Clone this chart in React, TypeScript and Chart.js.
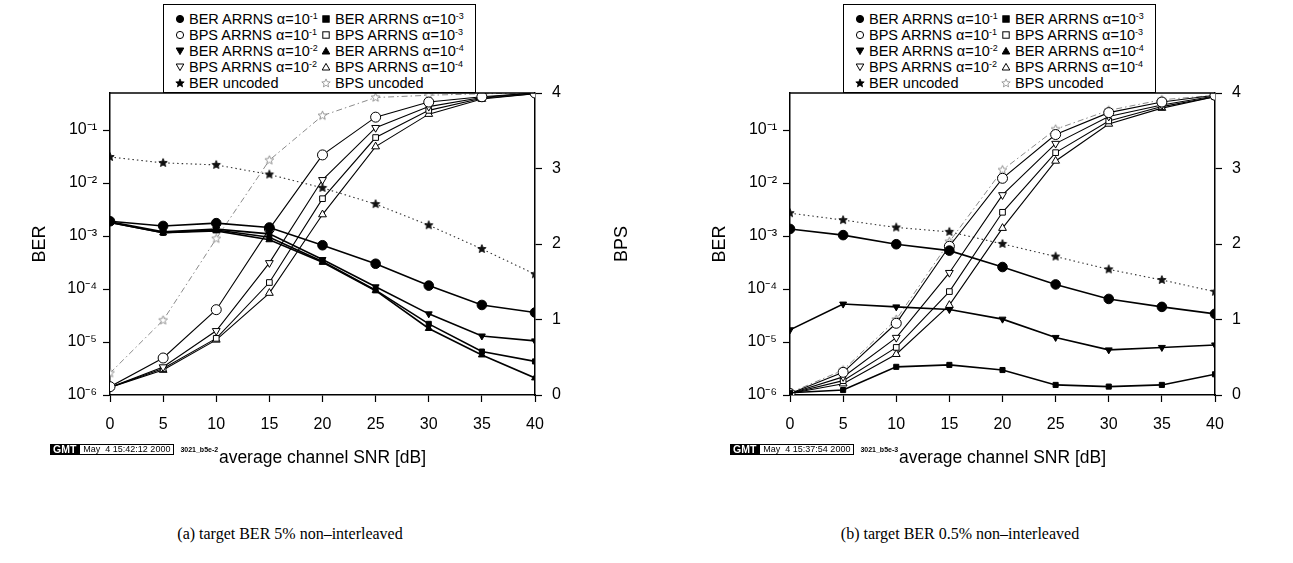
import React, { useEffect, useRef } from "react";
import { Chart, registerables } from "chart.js";

Chart.register(...registerables);

const FONT = "'Liberation Sans', Arial, Helvetica, sans-serif";
const SERIF = "'Liberation Serif', 'Times New Roman', serif";

const SNR_DB = [0, 5, 10, 15, 20, 25, 30, 35, 40];
const BER_DECADES = [1e-6, 1e-5, 1e-4, 1e-3, 1e-2, 1e-1];
const BPS_TICKS = [0, 1, 2, 3, 4];

// (a) target BER 5% non-interleaved
const A_BER_ALPHA1 = [1.9e-3, 1.55e-3, 1.75e-3, 1.45e-3, 6.7e-4, 3.0e-4, 1.16e-4, 5.0e-5, 3.6e-5];
const A_BER_ALPHA2 = [1.85e-3, 1.2e-3, 1.35e-3, 1.1e-3, 3.6e-4, 1.1e-4, 3.4e-5, 1.3e-5, 1.05e-5];
const A_BER_ALPHA3 = [1.8e-3, 1.15e-3, 1.3e-3, 9.5e-4, 3.3e-4, 9.5e-5, 2.2e-5, 6.6e-6, 4.3e-6];
const A_BER_ALPHA4 = [1.8e-3, 1.15e-3, 1.25e-3, 8.5e-4, 3.2e-4, 9.3e-5, 1.8e-5, 5.7e-6, 2.1e-6];
const A_BER_UNCODED = [3.1e-2, 2.4e-2, 2.2e-2, 1.45e-2, 8.1e-3, 4.0e-3, 1.6e-3, 5.7e-4, 1.9e-4];
const A_BPS_ALPHA1 = [0.11, 0.49, 1.13, 2.2, 3.18, 3.68, 3.88, 3.95, 4.0];
const A_BPS_ALPHA2 = [0.1, 0.37, 0.85, 1.75, 2.85, 3.54, 3.82, 3.94, 4.0];
const A_BPS_ALPHA3 = [0.1, 0.35, 0.75, 1.49, 2.6, 3.41, 3.77, 3.93, 3.99];
const A_BPS_ALPHA4 = [0.1, 0.33, 0.73, 1.35, 2.39, 3.29, 3.72, 3.92, 3.99];
const A_BPS_UNCODED = [0.29, 0.99, 2.07, 3.11, 3.7, 3.94, 3.97, 3.99, 4.0];

// (b) target BER 0.5% non-interleaved
const B_BER_ALPHA1 = [1.36e-3, 1.04e-3, 7.0e-4, 5.3e-4, 2.6e-4, 1.22e-4, 6.5e-5, 4.6e-5, 3.4e-5];
const B_BER_ALPHA2 = [1.7e-5, 5.2e-5, 4.6e-5, 4.1e-5, 2.7e-5, 1.22e-5, 7.1e-6, 7.9e-6, 8.8e-6];
const B_BER_ALPHA3 = [1.1e-6, 1.24e-6, 3.4e-6, 3.7e-6, 2.96e-6, 1.55e-6, 1.44e-6, 1.55e-6, 2.46e-6];
const B_BER_ALPHA4 = [6e-7, 5e-7, 5e-7, 5e-7, 5e-7, 5e-7, 5e-7, 5e-7, 5e-7];
const B_BER_UNCODED = [2.7e-3, 2.0e-3, 1.45e-3, 1.2e-3, 7.1e-4, 4.1e-4, 2.35e-4, 1.48e-4, 8.9e-5];
const B_BPS_ALPHA1 = [0.02, 0.3, 0.95, 1.97, 2.87, 3.45, 3.74, 3.88, 3.97];
const B_BPS_ALPHA2 = [0.02, 0.24, 0.76, 1.62, 2.65, 3.33, 3.69, 3.84, 3.96];
const B_BPS_ALPHA3 = [0.02, 0.19, 0.63, 1.37, 2.42, 3.21, 3.63, 3.82, 3.95];
const B_BPS_ALPHA4 = [0.02, 0.15, 0.54, 1.19, 2.21, 3.1, 3.59, 3.8, 3.95];
const B_BPS_UNCODED = [0.03, 0.33, 1.0, 2.03, 2.98, 3.52, 3.77, 3.91, 3.97];

const X_TITLE = "average channel SNR [dB]";
const Y_TITLE = "BER";
const Y2_TITLE = "BPS";

type PanelSeries = {
  berA1: number[]; berA2: number[]; berA3: number[]; berA4: number[]; berUn: number[];
  bpsA1: number[]; bpsA2: number[]; bpsA3: number[]; bpsA4: number[]; bpsUn: number[];
};

const PANEL_A: PanelSeries = {
  berA1: A_BER_ALPHA1, berA2: A_BER_ALPHA2, berA3: A_BER_ALPHA3, berA4: A_BER_ALPHA4, berUn: A_BER_UNCODED,
  bpsA1: A_BPS_ALPHA1, bpsA2: A_BPS_ALPHA2, bpsA3: A_BPS_ALPHA3, bpsA4: A_BPS_ALPHA4, bpsUn: A_BPS_UNCODED,
};
const PANEL_B: PanelSeries = {
  berA1: B_BER_ALPHA1, berA2: B_BER_ALPHA2, berA3: B_BER_ALPHA3, berA4: B_BER_ALPHA4, berUn: B_BER_UNCODED,
  bpsA1: B_BPS_ALPHA1, bpsA2: B_BPS_ALPHA2, bpsA3: B_BPS_ALPHA3, bpsA4: B_BPS_ALPHA4, bpsUn: B_BPS_UNCODED,
};

const SUP: Record<string, string> = {
  "-": "\u207B", "0": "\u2070", "1": "\u00B9", "2": "\u00B2", "3": "\u00B3",
  "4": "\u2074", "5": "\u2075", "6": "\u2076", "7": "\u2077", "8": "\u2078", "9": "\u2079",
};
function decadeLabel(v: number): string {
  const e = Math.round(Math.log10(v));
  return "10" + String(e).split("").map((c) => SUP[c] || c).join("");
}

function makeStar(fill: string | null, stroke: string, r: number): HTMLCanvasElement {
  const size = Math.ceil(r * 2 + 3);
  const c = document.createElement("canvas");
  c.width = size;
  c.height = size;
  const ctx = c.getContext("2d")!;
  const cx = size / 2, cy = size / 2, ri = r * 0.45;
  ctx.beginPath();
  for (let i = 0; i < 10; i++) {
    const rad = i % 2 === 0 ? r : ri;
    const a = -Math.PI / 2 + (i * Math.PI) / 5;
    const x = cx + rad * Math.cos(a), y = cy + rad * Math.sin(a);
    if (i === 0) ctx.moveTo(x, y); else ctx.lineTo(x, y);
  }
  ctx.closePath();
  if (fill) { ctx.fillStyle = fill; ctx.fill(); }
  ctx.strokeStyle = stroke;
  ctx.lineWidth = 0.9;
  ctx.stroke();
  return c;
}

const pts = (arr: number[]) => SNR_DB.map((x, i) => ({ x, y: arr[i] }));

// Chart.js paints dataset 0 last (on top): BER curves first, uncoded last.
function buildDatasets(p: PanelSeries, hideAlpha4Ber: boolean) {
  const starF = makeStar("#111", "#111", 4.4);
  const starO = makeStar("white", "#888", 4.6);
  const ber = (label: string, data: number[], style: any, rot = 0, radius = 4) => ({
    label, data: pts(data), yAxisID: "y", borderColor: "#000", borderWidth: 1.6,
    pointStyle: style, pointRotation: rot, pointRadius: radius, pointBackgroundColor: "#000",
    pointBorderColor: "#000", pointBorderWidth: 1, tension: 0, fill: false,
  });
  const bps = (label: string, data: number[], style: any, rot = 0, radius = 4) => ({
    label, data: pts(data), yAxisID: "y1", borderColor: "#000", borderWidth: 1.1,
    pointStyle: style, pointRotation: rot, pointRadius: radius, pointBackgroundColor: "#fff",
    pointBorderColor: "#000", pointBorderWidth: 1, tension: 0, fill: false,
  });
  const a4 = ber("BER ARRNS \u03B1=10\u207B\u2074", p.berA4, "triangle", 0, 4);
  if (hideAlpha4Ber) (a4 as any).clip = 0;
  return [
    ber("BER ARRNS \u03B1=10\u207B\u00B9", p.berA1, "circle", 0, 4.8),
    ber("BER ARRNS \u03B1=10\u207B\u00B2", p.berA2, "triangle", 180, 4),
    ber("BER ARRNS \u03B1=10\u207B\u00B3", p.berA3, "rect", 0, 3.6),
    a4,
    bps("BPS ARRNS \u03B1=10\u207B\u00B9", p.bpsA1, "circle", 0, 5),
    bps("BPS ARRNS \u03B1=10\u207B\u00B2", p.bpsA2, "triangle", 180, 4.5),
    bps("BPS ARRNS \u03B1=10\u207B\u00B3", p.bpsA3, "rect", 0, 4),
    bps("BPS ARRNS \u03B1=10\u207B\u2074", p.bpsA4, "triangle", 0, 4.5),
    {
      label: "BER uncoded", data: pts(p.berUn), yAxisID: "y", borderColor: "#333", borderWidth: 1.1,
      borderDash: [1.5, 3], pointStyle: starF, tension: 0, fill: false,
    },
    {
      label: "BPS uncoded", data: pts(p.bpsUn), yAxisID: "y1", borderColor: "#8a8a8a", borderWidth: 1,
      borderDash: [6, 3, 1.5, 3], pointStyle: starO, tension: 0, fill: false,
    },
  ];
}

// top frame line + right-axis title drawn reading upwards (as the left one)
const framePlugin = {
  id: "frameTop",
  afterDraw(chart: any) {
    const { ctx, chartArea } = chart;
    ctx.save();
    ctx.strokeStyle = "#000";
    ctx.lineWidth = 1.5;
    ctx.beginPath();
    ctx.moveTo(chartArea.left, chartArea.top);
    ctx.lineTo(chartArea.right, chartArea.top);
    ctx.stroke();
    const y1 = chart.scales.y1;
    ctx.translate(y1.right - 38, (chartArea.top + chartArea.bottom) / 2);
    ctx.rotate(-Math.PI / 2);
    ctx.fillStyle = "#000";
    ctx.font = `18px ${FONT}`;
    ctx.textAlign = "center";
    ctx.textBaseline = "middle";
    ctx.fillText(Y2_TITLE, 0, 0);
    ctx.restore();
  },
};

const CANVAS_W = 660;
const CANVAS_H = 480;

function PanelChart({ series, hideAlpha4Ber }: { series: PanelSeries; hideAlpha4Ber: boolean }) {
  const ref = useRef<HTMLCanvasElement | null>(null);
  useEffect(() => {
    if (!ref.current) return;
    const tickFont = { family: FONT, size: 16 };
    const grid = { drawOnChartArea: false, drawTicks: true, tickLength: 7, tickColor: "#000", tickWidth: 1.2 };
    const border = { display: true, color: "#000", width: 1.5 };
    const chart = new Chart(ref.current, {
      type: "line",
      data: { datasets: buildDatasets(series, hideAlpha4Ber) as any },
      options: {
        responsive: false,
        animation: false,
        devicePixelRatio: 1,
        layout: { padding: { top: 93, left: 0, right: 0, bottom: 0 } },
        plugins: { legend: { display: false }, tooltip: { enabled: false } },
        scales: {
          x: {
            type: "linear", position: "bottom", min: 0, max: 40,
            ticks: { stepSize: 5, color: "#000", font: tickFont, padding: 13 },
            grid, border,
            title: { display: true, text: X_TITLE, color: "#000", font: { family: FONT, size: 17.5 }, padding: { top: 0, bottom: 11 } },
            afterFit: (s: any) => { s.height = 85; },
          },
          y: {
            type: "logarithmic", position: "left", min: 1e-6, max: 0.5,
            afterBuildTicks: (s: any) => { s.ticks = BER_DECADES.map((v) => ({ value: v })); },
            ticks: { callback: (v: any) => decadeLabel(Number(v)), color: "#000", font: tickFont, padding: 6, autoSkip: false },
            grid, border,
            title: { display: true, text: Y_TITLE, color: "#000", font: { family: FONT, size: 18 }, padding: { top: 29, bottom: 0 } },
            afterFit: (s: any) => { s.width = 110; },
          },
          y1: {
            type: "linear", position: "right", min: 0, max: 4,
            afterBuildTicks: (s: any) => { s.ticks = BPS_TICKS.map((v) => ({ value: v })); },
            ticks: { color: "#000", font: tickFont, padding: 10 },
            grid, border,
            title: { display: false, text: Y2_TITLE },
            afterFit: (s: any) => { s.width = 125; },
          },
        },
      } as any,
      plugins: [framePlugin],
    });
    return () => chart.destroy();
  }, [series, hideAlpha4Ber]);
  return <canvas ref={ref} width={CANVAS_W} height={CANVAS_H} style={{ width: CANVAS_W, height: CANVAS_H, display: "block" }} />;
}

type MarkerKind = "circleF" | "circleO" | "triDownF" | "triDownO" | "squareF" | "squareO" | "triUpF" | "triUpO" | "starF" | "starO";

function Marker({ kind }: { kind: MarkerKind }) {
  const filled = kind.endsWith("F");
  const fill = filled ? "#000" : "#fff";
  const stroke = kind === "starO" ? "#888" : "#000";
  let shape: React.ReactNode = null;
  if (kind.startsWith("circle")) shape = <circle cx={5} cy={5} r={3.6} fill={fill} stroke={stroke} strokeWidth={1} />;
  else if (kind.startsWith("square")) shape = <rect x={1.8} y={1.8} width={6.4} height={6.4} fill={fill} stroke={stroke} strokeWidth={1} />;
  else if (kind.startsWith("triDown")) shape = <polygon points="1.2,2 8.8,2 5,8.6" fill={fill} stroke={stroke} strokeWidth={1} />;
  else if (kind.startsWith("triUp")) shape = <polygon points="1.2,8 8.8,8 5,1.4" fill={fill} stroke={stroke} strokeWidth={1} />;
  else {
    const p: string[] = [];
    for (let i = 0; i < 10; i++) {
      const rad = i % 2 === 0 ? 4.4 : 2;
      const a = -Math.PI / 2 + (i * Math.PI) / 5;
      p.push((5 + rad * Math.cos(a)).toFixed(2) + "," + (5.3 + rad * Math.sin(a)).toFixed(2));
    }
    shape = <polygon points={p.join(" ")} fill={fill} stroke={stroke} strokeWidth={0.8} />;
  }
  return <svg width={10} height={10} style={{ display: "block", flex: "none" }}>{shape}</svg>;
}

const LEGEND_ITEMS: { kind: MarkerKind; name: string; exp: string }[] = [
  { kind: "circleF", name: "BER ARRNS \u03B1=10", exp: "-1" },
  { kind: "squareF", name: "BER ARRNS \u03B1=10", exp: "-3" },
  { kind: "circleO", name: "BPS ARRNS \u03B1=10", exp: "-1" },
  { kind: "squareO", name: "BPS ARRNS \u03B1=10", exp: "-3" },
  { kind: "triDownF", name: "BER ARRNS \u03B1=10", exp: "-2" },
  { kind: "triUpF", name: "BER ARRNS \u03B1=10", exp: "-4" },
  { kind: "triDownO", name: "BPS ARRNS \u03B1=10", exp: "-2" },
  { kind: "triUpO", name: "BPS ARRNS \u03B1=10", exp: "-4" },
  { kind: "starF", name: "BER uncoded", exp: "" },
  { kind: "starO", name: "BPS uncoded", exp: "" },
];

function Legend({ left }: { left: number }) {
  return (
    <div style={{
      position: "absolute", left, top: 4, width: 313, height: 89, boxSizing: "border-box",
      border: "1.5px solid #000", background: "#fff", fontFamily: FONT, fontSize: 14.5, color: "#000", zIndex: 2,
    }}>
      {LEGEND_ITEMS.map((it, i) => {
        const col = i % 2, row = Math.floor(i / 2);
        return (
          <div key={i} style={{
            position: "absolute", left: col === 0 ? 11 : 157, top: 6 + row * 16, height: 16,
            display: "flex", alignItems: "center", whiteSpace: "nowrap", lineHeight: "16px",
          }}>
            <Marker kind={it.kind} />
            <span style={{ marginLeft: 4 }}>
              {it.name}
              {it.exp ? <sup style={{ fontSize: 9, verticalAlign: "5px", lineHeight: 0 }}>{it.exp}</sup> : null}
            </span>
          </div>
        );
      })}
    </div>
  );
}

function Stamp({ left, date, id }: { left: number; date: string; id: string }) {
  return (
    <div style={{ position: "absolute", left, top: 443, display: "flex", alignItems: "center", height: 12, fontFamily: FONT, zIndex: 2 }}>
      <span style={{ background: "#000", color: "#fff", fontWeight: "bold", fontSize: 10.5, padding: "0 3px", height: 11, lineHeight: "11px" }}>GMT</span>
      <span style={{ border: "1px solid #000", fontSize: 9, padding: "0 3px", height: 9, lineHeight: "9px", whiteSpace: "pre" }}>{date}</span>
      <span style={{ marginLeft: 6, fontSize: 7, fontWeight: "bold" }}>{id}</span>
    </div>
  );
}

function Caption({ center, text }: { center: number; text: string }) {
  return (
    <div style={{
      position: "absolute", left: center - 200, width: 400, top: 524, textAlign: "center",
      fontFamily: SERIF, fontSize: 16, lineHeight: "20px", color: "#000", whiteSpace: "pre",
    }}>{text}</div>
  );
}

export default function App() {
  return (
    <div style={{ position: "absolute", left: 0, top: 0, width: 1293, height: 563, background: "#fff", overflow: "hidden" }}>
      <div style={{ position: "absolute", left: 0, top: 0 }}>
        <PanelChart series={PANEL_A} hideAlpha4Ber={false} />
      </div>
      <div style={{ position: "absolute", left: 680, top: 0 }}>
        <PanelChart series={PANEL_B} hideAlpha4Ber={true} />
      </div>
      <Legend left={163} />
      <Legend left={843} />
      <Stamp left={50} date={"May  4 15:42:12 2000"} id="3021_b5e-2" />
      <Stamp left={730} date={"May  4 15:37:54 2000"} id="3021_b5e-3" />
      <Caption center={290} text={"(a) target BER 5% non\u2013interleaved"} />
      <Caption center={960} text={"(b) target BER 0.5% non\u2013interleaved"} />
    </div>
  );
}
